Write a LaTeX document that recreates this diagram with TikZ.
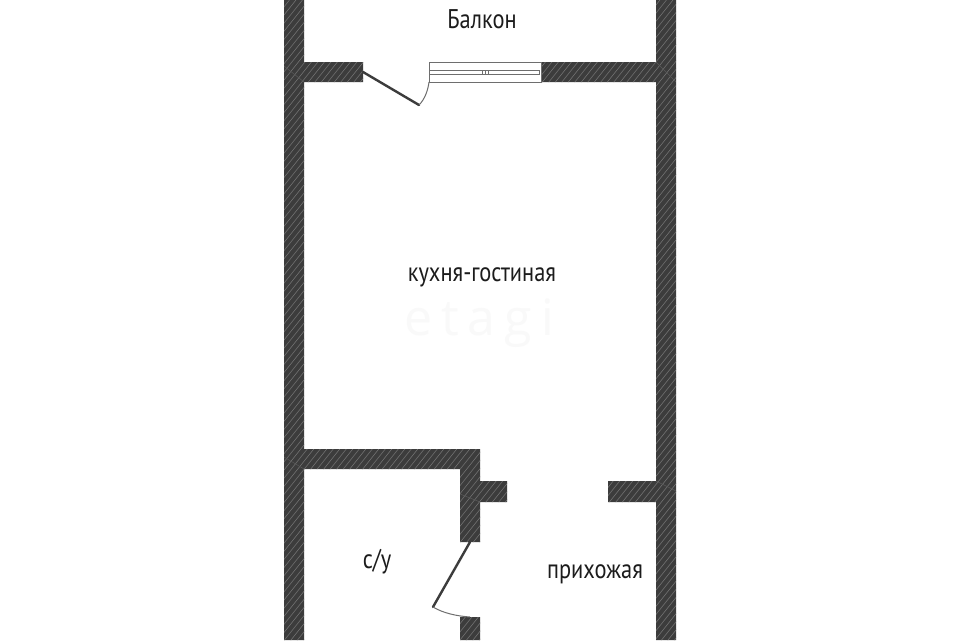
\documentclass[tikz,border=0pt]{standalone}
\usepackage{fontspec}
\setmainfont[FakeStretch=0.83]{PT Sans}
\newfontfamily\markfont[LetterSpace=18]{Open Sans}
\definecolor{wallc}{HTML}{3C3C3C}
\definecolor{hatchc}{HTML}{707070}
\definecolor{seamc}{HTML}{5A5A5A}
\definecolor{framec}{HTML}{6E6E6E}
\definecolor{labelc}{HTML}{1C1C1C}
\definecolor{markc}{HTML}{F9F9F9}
\tikzset{
  roomlabel/.style={text=labelc,inner sep=0pt,font=\fontsize{27}{30}\selectfont,anchor=base},
  wallfill/.style={fill=wallc,draw=none},
  hatchline/.style={draw=hatchc,line width=0.6pt},
  seamline/.style={draw=seamc,line width=0.5pt},
  framel/.style={draw=framec,line width=1pt,fill=white},
  doorleaf/.style={draw=wallc,line width=2.4pt,line cap=round},
  doorswing/.style={draw=framec,line width=1pt},
}
\newcommand{\wallshape}{%
  (284,0) rectangle (304,640)
  (656,0) rectangle (676,640)
  (304,62) rectangle (363,82)
  (541,62) rectangle (656,82)
  (304,449) rectangle (480,469)
  (460,469) rectangle (480,542)
  (480,481) rectangle (507,502)
  (608,481) rectangle (656,502)
  (460,617) rectangle (480,640)}
\begin{document}
\begin{tikzpicture}[x=1pt,y=-1pt]
\useasboundingbox (0,0) rectangle (960,640);
\fill[white] (0,0) rectangle (960,640);
\node[text=markc,inner sep=0pt,anchor=base,font=\markfont\fontsize{50}{50}\selectfont] (mark) at (479,335) {etagi};
\fill[wallfill] \wallshape;
\begin{scope}
  \clip \wallshape;
  \foreach \k in {-100,...,120} {
    \draw[hatchline] ({270+\k*6.5},650) -- ({270+\k*6.5+520},0);
  }
  \draw[seamline] (284,66) -- (304,82);
  \draw[seamline] (284,457) -- (304,469);
  \draw[seamline] (460,494) -- (480,502);
  \draw[seamline] (656,481) -- (676,491);
  \draw[seamline] (656,62) -- (676,82);
\end{scope}
% window
\draw[framel] (429,62) rectangle (541,82);
\draw[framel] (429,70) rectangle (539,74.5);
\draw[framel] (482,70) rectangle (488,74.5);
\draw[draw=framec,line width=0.7pt] (485,70) -- (485,74.5);
% doors
\coordinate (hingeA) at (363,72);
\coordinate (tipA) at (419,105);
\coordinate (jambA) at (429,82);
\draw[doorleaf] (hingeA) -- (tipA);
\draw[doorswing] (tipA) .. controls (425,99) and (428,90) .. (jambA);
\coordinate (hingeB) at (470,542);
\coordinate (tipB) at (433,607);
\coordinate (jambB) at (470,617);
\draw[doorleaf] (hingeB) -- (tipB);
\draw[doorswing] (tipB) .. controls (443,613) and (456,616) .. (jambB);
% labels
\node[roomlabel] (balcony) at (482,28.5) {Балкон};
\node[roomlabel] (kitchen) at (482,281) {кухня-гостиная};
\node[roomlabel] (bath) at (377,568) {с/у};
\node[roomlabel] (hall) at (595,578) {прихожая};
\end{tikzpicture}
\end{document}
